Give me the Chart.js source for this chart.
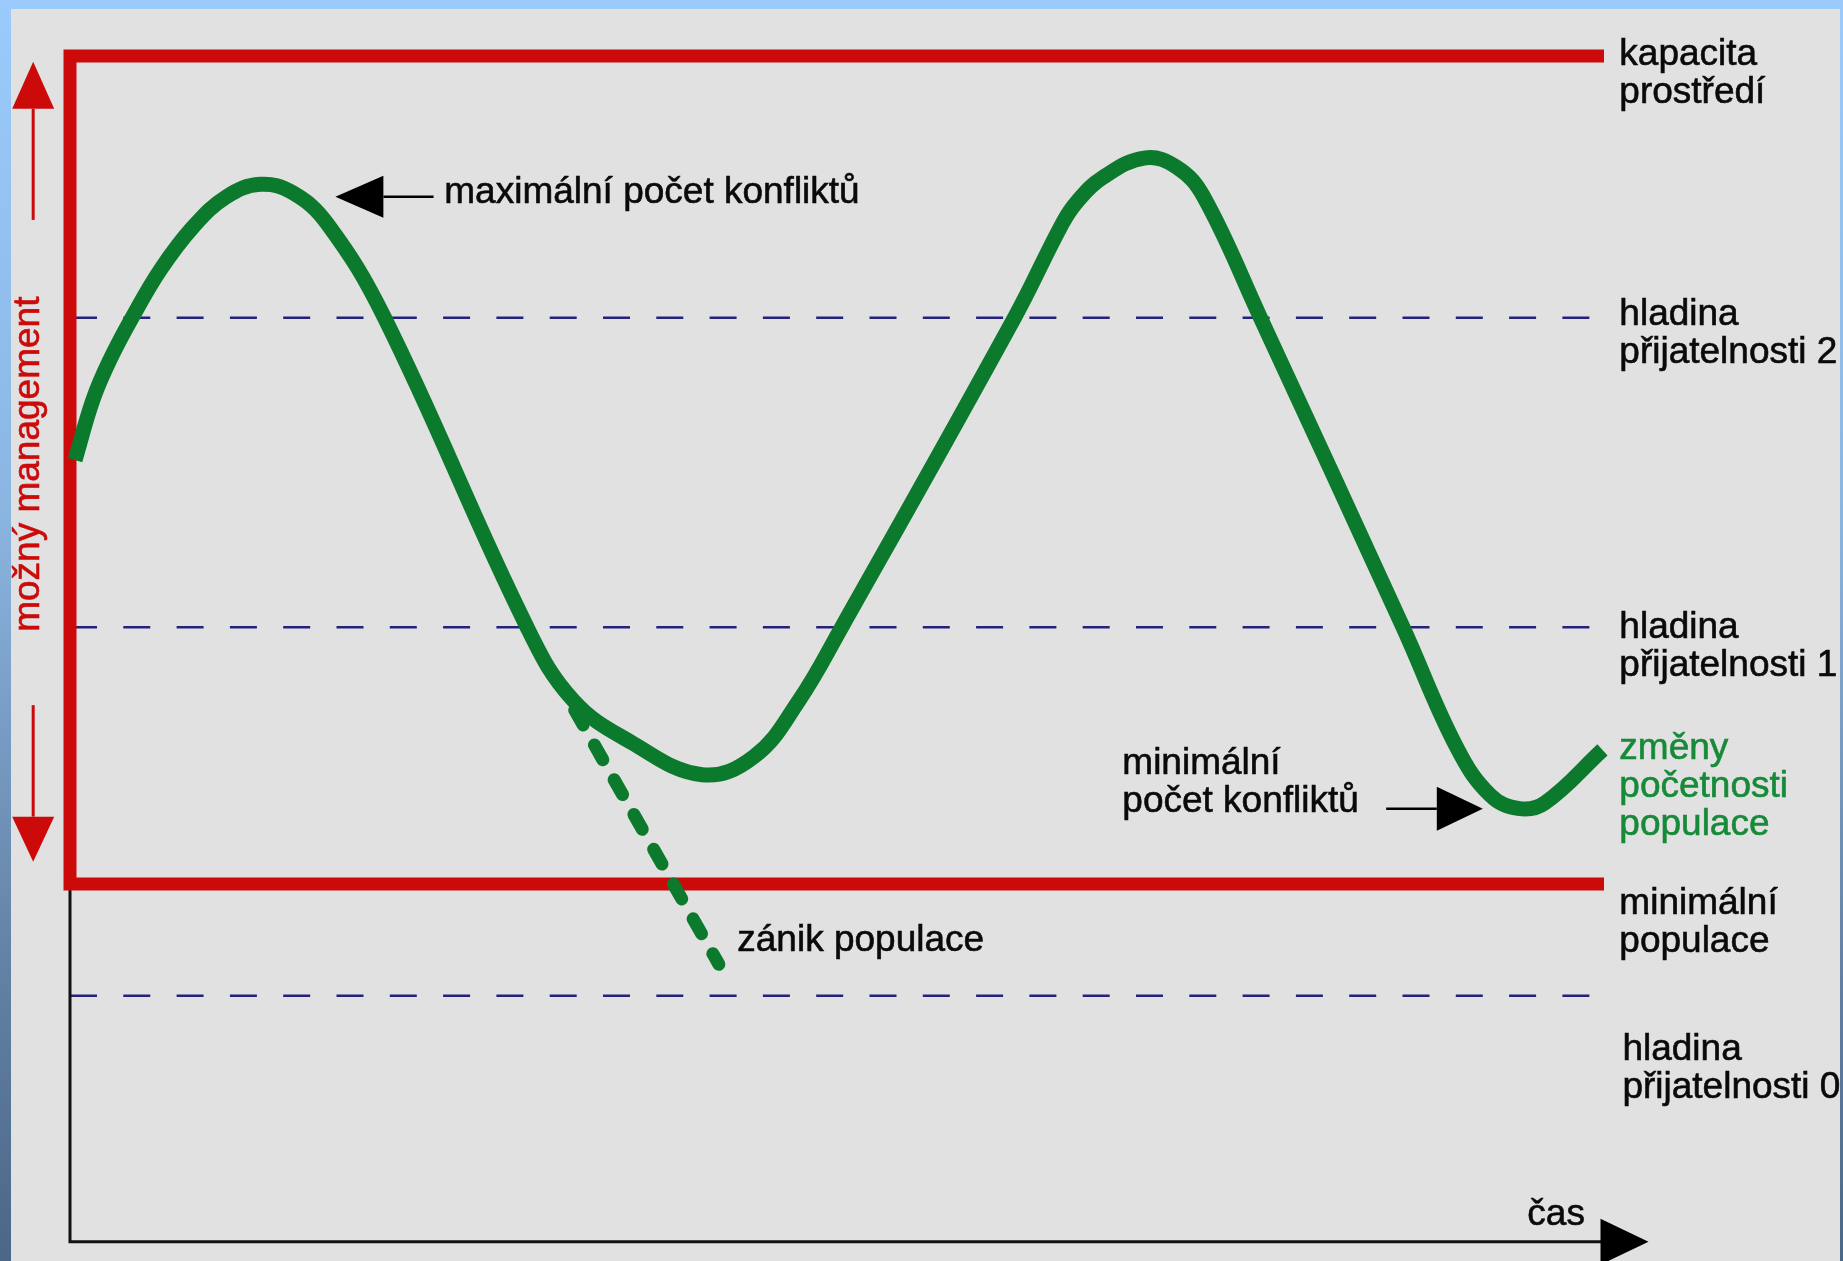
<!DOCTYPE html>
<html lang="cs">
  <head>
    <meta charset="UTF-8" />
    <title>Změny početnosti populace</title>
    <script src="https://cdn.jsdelivr.net/npm/chart.js"></script>
    <style>
      html, body { margin: 0; padding: 0; }
      body {
        width: 1843px;
        height: 1261px;
        overflow: hidden;
        position: relative;
        background: linear-gradient(to bottom, #9acbfc 0%, #8bb6e2 40%, #6583a6 75%, #4a6787 100%);
      }
      #panel {
        position: absolute;
        left: 11px;
        top: 9px;
        width: 1829px;
        height: 1252px;
        background: #e1e1e1;
      }
      #chart { position: absolute; left: 0; top: 0; }
    </style>
  </head>

  <body>
    <div id="panel"></div>
    <canvas id="chart" width="1843" height="1261"></canvas>

    <script>
      // time axis (0 = start, 100 = end of the red frame)
      const timeStart = 0;
      const timeEnd = 100;
      const dashEnd = 99.3;
      const axisTip = 102.9;

      // population levels
      const capacityLevel = 100;       // kapacita prostředí
      const minimumLevel = 0;          // minimální populace
      const acceptLevels = [68.4, 31.0, -13.5]; // hladina přijatelnosti 2, 1, 0
      const axisLevel = -43.2;

      // population curve
      const curveTime = [0.33, 1.5, 2.6, 4.05, 5.9, 8.0, 10.2, 12.4, 14.5, 16.75, 20.5,
        29.8, 32.8, 36.6, 41.2, 44.6, 47.5, 50.3, 61.6, 64.7, 65.65, 67.3,
        70.1, 72.2, 73.9, 77.6, 86.9, 90.4, 92.6, 94.5, 96.15, 99.9];
      const curveLevel = [51.2, 58.5, 63.3, 68.4, 74.2, 79.3, 83.0, 84.5, 83.5, 79.8, 68.4,
        31.0, 22.2, 17.1, 13.2, 15.4, 22.1, 31.0, 68.5, 79.8, 82.4, 85.3,
        87.7, 86.5, 83.0, 68.4, 31.0, 16.5, 10.7, 9.1, 9.8, 16.2];

      // extinction branch (zánik populace)
      const extinctTime = [32.9, 42.3];
      const extinctLevel = [21.0, -9.7];

      const rightLabels = [
        ['kapacita', 'prostředí'],
        ['hladina', 'přijatelnosti 2'],
        ['hladina', 'přijatelnosti 1'],
        ['změny', 'početnosti', 'populace'],
        ['minimální', 'populace'],
        ['hladina', 'přijatelnosti 0'],
      ];
      const noteLabels = [
        ['maximální počet konfliktů'],
        ['minimální', 'počet konfliktů'],
        ['zánik populace'],
        ['čas'],
      ];
      const sideLabel = 'možný management';

      const RED = '#cc0a0a';
      const GREEN = '#0c7a2c';
      const NAVY = '#24227a';
      const FONT = '37px "Liberation Sans", Arial, sans-serif';

      const pts = (xs, ys) => xs.map((x, i) => ({ x: x, y: ys[i] }));

      // annotation layout: anchors in data units (time, level)
      const labelAnchors = [
        { t: 101.0, l: 98.9, color: '#0a0a0a' },
        { t: 101.0, l: 67.5, color: '#0a0a0a' },
        { t: 101.0, l: 29.7, color: '#0a0a0a' },
        { t: 101.0, l: 15.1, color: '#168a38' },
        { t: 101.0, l: -3.6, color: '#0a0a0a' },
        { t: 101.2, l: -21.3, color: '#0a0a0a' },
      ];
      const noteAnchors = [
        { t: 24.4, l: 82.3 },
        { t: 68.6, l: 13.3 },
        { t: 43.5, l: -8.1 },
        { t: 95.0, l: -41.2 },
      ];
      const arrows = [
        // [tail t, tail l, tip t, tip l, head length, half width, colour, stem width]
        [23.7, 83.0, 17.3, 83.0, 48, 21, '#000', 2.5],
        [85.8, 9.1, 92.1, 9.1, 46, 22, '#000', 2.5],
        [-2.4, 80.2, -2.4, 99.3, 47, 21, RED, 3],
        [-2.4, 21.6, -2.4, 2.7, 45, 21, RED, 3],
        [99.0, axisLevel, axisTip, axisLevel, 48, 23, '#000', 0],
      ];

      const overlay = {
        id: 'overlay',
        afterDatasetsDraw(chart) {
          const { ctx } = chart;
          const X = (v) => chart.scales.x.getPixelForValue(v);
          const Y = (v) => chart.scales.y.getPixelForValue(v);
          ctx.save();

          arrows.forEach(([t0, l0, t1, l1, hl, hw, col, sw]) => {
            const x0 = X(t0), y0 = Y(l0), x1 = X(t1), y1 = Y(l1);
            const len = Math.hypot(x1 - x0, y1 - y0);
            const ux = (x1 - x0) / len, uy = (y1 - y0) / len;
            const bx = x1 - ux * hl, by = y1 - uy * hl;
            if (sw > 0) {
              ctx.strokeStyle = col;
              ctx.lineWidth = sw;
              ctx.beginPath();
              ctx.moveTo(x0, y0);
              ctx.lineTo(bx, by);
              ctx.stroke();
            }
            ctx.fillStyle = col;
            ctx.beginPath();
            ctx.moveTo(x1, y1);
            ctx.lineTo(bx - uy * hw, by + ux * hw);
            ctx.lineTo(bx + uy * hw, by - ux * hw);
            ctx.closePath();
            ctx.fill();
          });

          ctx.font = FONT;
          ctx.textBaseline = 'alphabetic';
          ctx.textAlign = 'left';
          ctx.lineWidth = 0.6;
          const lineGap = 38;
          const put = (s, x, y, col) => {
            ctx.fillStyle = col;
            ctx.strokeStyle = col;
            ctx.fillText(s, x, y);
            ctx.strokeText(s, x, y);
          };
          rightLabels.forEach((lines, i) => {
            const a = labelAnchors[i];
            lines.forEach((s, j) => put(s, X(a.t), Y(a.l) + j * lineGap, a.color));
          });
          noteLabels.forEach((lines, i) => {
            const a = noteAnchors[i];
            lines.forEach((s, j) => put(s, X(a.t), Y(a.l) + j * lineGap, '#0a0a0a'));
          });

          // rotated side label
          ctx.translate(X(-2.0), Y(50.7));
          ctx.rotate(-Math.PI / 2);
          ctx.textAlign = 'center';
          put(sideLabel, 0, 0, RED);
          ctx.restore();
        },
      };

      document.addEventListener('DOMContentLoaded', function () {
        const ctx = document.getElementById('chart').getContext('2d');

        const dashed = acceptLevels.map((lv) => ({
          data: pts([timeStart, dashEnd], [lv, lv]),
          borderColor: NAVY,
          borderWidth: 2.5,
          borderDash: [27, 26.3],
          tension: 0,
          order: 5,
        }));

        new Chart(ctx, {
          type: 'line',
          plugins: [overlay],
          data: {
            datasets: [
              {
                // population curve
                data: pts(curveTime, curveLevel),
                borderColor: GREEN,
                borderWidth: 15,
                tension: 0.4,
                borderCapStyle: 'butt',
                borderJoinStyle: 'round',
                order: 1,
              },
              {
                // extinction
                data: pts(extinctTime, extinctLevel),
                borderColor: GREEN,
                borderWidth: 13,
                borderDash: [17, 23],
                borderCapStyle: 'round',
                tension: 0,
                order: 2,
              },
              {
                // red frame: capacity + minimum population
                data: pts(
                  [timeEnd, timeStart, timeStart, timeEnd],
                  [capacityLevel, capacityLevel, minimumLevel, minimumLevel]
                ),
                borderColor: RED,
                borderWidth: 13,
                borderJoinStyle: 'miter',
                tension: 0,
                order: 3,
              },
              {
                // time axis
                data: pts([timeStart, timeStart, timeEnd], [minimumLevel, axisLevel, axisLevel]),
                borderColor: '#111',
                borderWidth: 3,
                borderJoinStyle: 'miter',
                tension: 0,
                order: 4,
              },
              ...dashed,
            ],
          },
          options: {
            responsive: false,
            animation: false,
            devicePixelRatio: 1,
            events: [],
            elements: { point: { radius: 0 }, line: { fill: false } },
            layout: { padding: 0 },
            plugins: { legend: { display: false }, tooltip: { enabled: false } },
            scales: {
              x: { type: 'linear', display: false, min: -4.563, max: 115.58 },
              y: { type: 'linear', display: false, min: -45.53, max: 106.76 },
            },
          },
        });
      });
    </script>
  </body>
</html>
